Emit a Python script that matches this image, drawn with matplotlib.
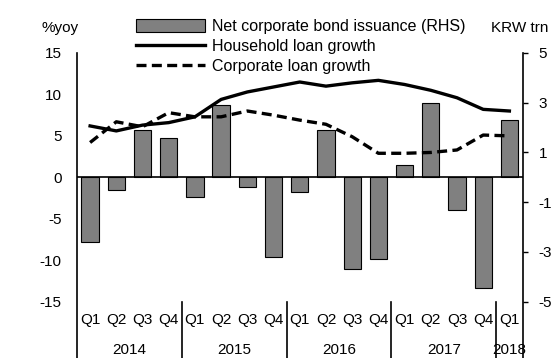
import matplotlib
matplotlib.use("Agg")
import matplotlib.pyplot as plt

plt.rcParams['font.family'] = ['Liberation Sans', 'DejaVu Sans']
plt.rcParams['axes.unicode_minus'] = False

quarters = ['Q1', 'Q2', 'Q3', 'Q4'] * 4 + ['Q1']
years = ['2014', '2015', '2016', '2017', '2018']

# net corporate bond issuance, KRW trn (right axis)
bond_issuance = [-2.6, -0.5, 1.9, 1.6,
                 -0.8, 2.9, -0.4, -3.2,
                 -0.6, 1.9, -3.7, -3.3,
                 0.5, 3.0, -1.3, -4.45,
                 2.3]

# %yoy (left axis)
household_loan = [6.2, 5.6, 6.3, 6.6,
                  7.3, 9.4, 10.3, 10.9,
                  11.5, 11.0, 11.4, 11.7,
                  11.2, 10.5, 9.6, 8.2,
                  8.0]

corporate_loan = [4.2, 6.7, 6.1, 7.8,
                  7.3, 7.3, 8.0, 7.5,
                  6.9, 6.4, 4.9, 2.9,
                  2.9, 3.0, 3.3, 5.1,
                  5.0]

x = list(range(len(quarters)))

fig = plt.figure(figsize=(5.51, 3.58), dpi=100)
ax = fig.add_axes([77 / 551, 0.0, 445.5 / 551, 1 - 53 / 358])
ax2 = ax.twinx()

bot = -21.8
ax.set_ylim(bot, 15)
ax2.set_ylim(bot / 3, 5)
ax.set_xlim(-0.5, 16.5)

# bars on right axis, behind lines
ax2.bar(x, bond_issuance, width=0.66, color='#808080', edgecolor='black',
        linewidth=0.8, label='Net corporate bond issuance (RHS)', zorder=2)
ax2.axhline(0, color='black', lw=1.2, zorder=3)

ax.set_zorder(ax2.get_zorder() + 1)
ax.patch.set_visible(False)
ax.plot(x, household_loan, color='black', lw=2.4, label='Household loan growth', zorder=4)
ax.plot(x, corporate_loan, color='black', lw=2.4, ls=(0, (3, 1.6)),
        label='Corporate loan growth', zorder=4)

ax.set_yticks([-15, -10, -5, 0, 5, 10, 15])
ax.tick_params(axis='y', length=0, pad=11, labelsize=11)
ax2.set_yticks([-5, -3, -1, 1, 3, 5])
ax2.tick_params(axis='y', length=3.5, width=1, pad=8, labelsize=11)
ax.set_xticks([])

for a in (ax, ax2):
    a.spines['top'].set_visible(False)
    a.spines['bottom'].set_visible(False)
    a.spines['left'].set_linewidth(1.2)
    a.spines['right'].set_linewidth(1.2)
ax.spines['right'].set_visible(False)
ax2.spines['left'].set_visible(False)

# category labels
for xi, q in zip(x, quarters):
    ax.text(xi, -17.2, q, ha='center', va='center', fontsize=11)
for gi, yr in enumerate(years):
    start = gi * 4 - 0.5
    end = min(start + 4, 16.5)
    ax.text((start + end) / 2, -20.8, yr, ha='center', va='center', fontsize=11)
    if gi > 0:
        ax.plot([start, start], [-15, bot], color='black', lw=1.2, clip_on=False)

fig.text(42 / 551, 1 - 28 / 358, '%yoy', ha='left', va='center', fontsize=11)
fig.text(548 / 551, 1 - 28 / 358, 'KRW trn', ha='right', va='center', fontsize=11)

h1, l1 = ax2.get_legend_handles_labels()
h2, l2 = ax.get_legend_handles_labels()
fig.legend(h1 + h2, l1 + l2, loc='upper left', bbox_to_anchor=(136 / 551, 1 - 19 / 358),
           frameon=False, fontsize=11.5, handlelength=4.3, handleheight=0.8,
           labelspacing=0.3, handletextpad=0.45, borderaxespad=0, borderpad=0)

fig.savefig('out.png', dpi=100)
